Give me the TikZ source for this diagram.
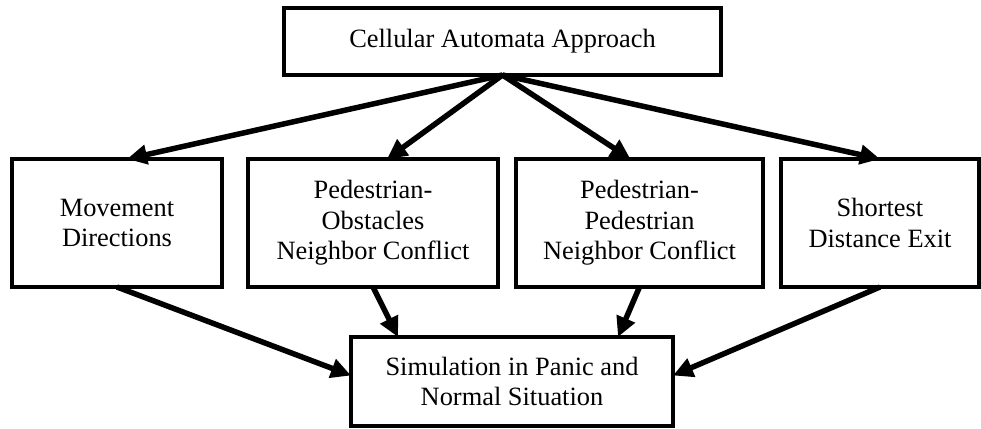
\documentclass[tikz,border=0pt]{standalone}
\usepackage{fontspec}
\setmainfont{Liberation Serif}
\usetikzlibrary{arrows.meta,calc}
\tikzset{
  boxnode/.style={draw=black, line width=4pt, rectangle, inner sep=0pt, outer sep=0pt,
    align=center, font=\fontsize{26.4}{30.4}\selectfont},
  conn/.style={line width=5.5pt, -{Triangle[length=20pt,width=19pt]}}
}
\begin{document}
\begin{tikzpicture}[x=1pt,y=-1pt]
\useasboundingbox (0,0) rectangle (981,428);
\node[boxnode, minimum width=437pt, minimum height=67pt] (top) at (502.5,41.5) {Cellular Automata Approach};
\node[boxnode, minimum width=210pt, minimum height=128pt] (m1) at (117,223) {Movement\\Directions};
\node[boxnode, minimum width=250pt, minimum height=128pt] (m2) at (373,223) {Pedestrian-\\Obstacles\\Neighbor Conflict};
\node[boxnode, minimum width=247pt, minimum height=128pt] (m3) at (639.5,223) {Pedestrian-\\Pedestrian\\Neighbor Conflict};
\node[boxnode, minimum width=198pt, minimum height=128pt] (m4) at (880,223) {Shortest\\Distance Exit};
\node[boxnode, minimum width=322pt, minimum height=89pt] (bot) at (512,381.5) {Simulation in Panic and\\Normal Situation};
\draw[conn] (top.south) -- ([xshift=10pt]m1.north);
\draw[conn] (top.south) -- ([xshift=14pt]m2.north);
\draw[conn] (top.south) -- ([xshift=-9pt]m3.north);
\draw[conn] (top.south) -- (m4.north);
\draw[conn] (m1.south) -- ([yshift=6pt]bot.west);
\draw[conn] (m2.south) -- ([xshift=-114pt]bot.north);
\draw[conn] (m3.south) -- ([xshift=106pt]bot.north);
\draw[conn] (m4.south) -- ([yshift=6pt]bot.east);
\end{tikzpicture}
\end{document}
